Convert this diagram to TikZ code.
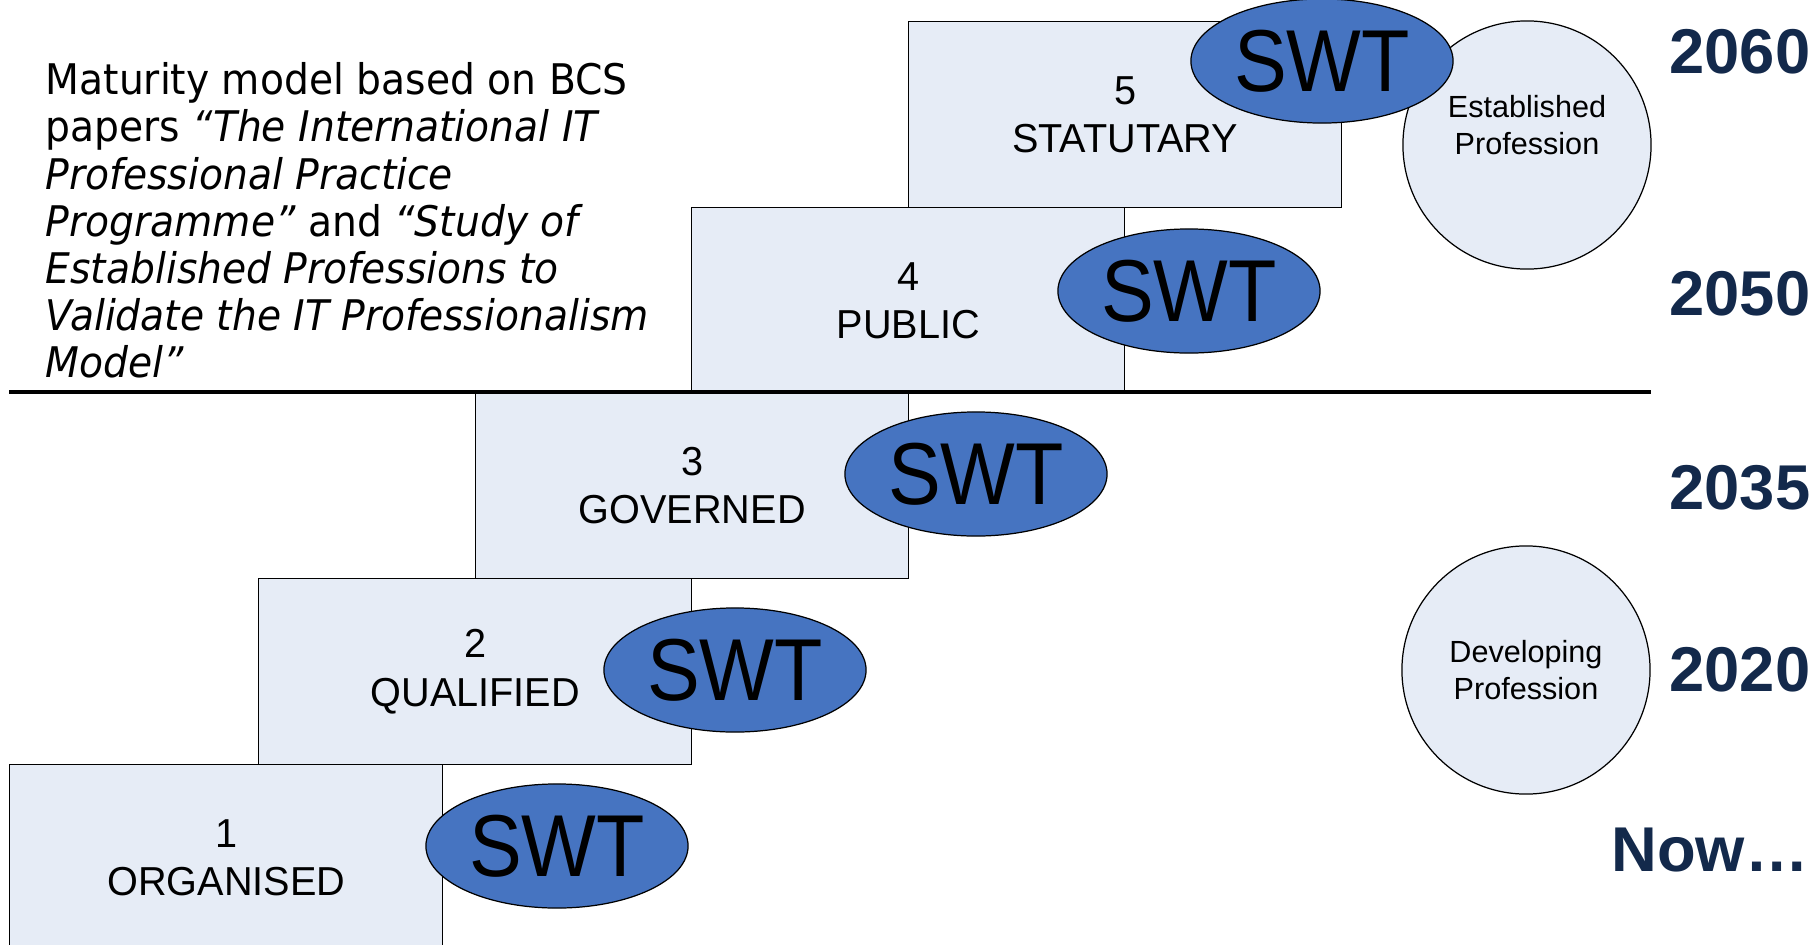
\documentclass[tikz,border=0pt]{standalone}
\usepackage{fontspec}
\setmainfont{Liberation Sans}
\newfontfamily\narrowfont[FakeStretch=0.98]{Liberation Sans}
\newfontfamily\swtfont[FakeStretch=0.9]{Liberation Sans}
\newfontfamily\notefont[FakeStretch=0.93]{DejaVu Sans}
\usetikzlibrary{shapes.geometric, positioning}
\definecolor{stagefill}{HTML}{E6ECF6}
\definecolor{swtblue}{HTML}{4674C1}
\definecolor{yearnavy}{HTML}{13294B}
\tikzset{
    stage/.style={rectangle, draw, line width=0.35pt, fill=stagefill, minimum width=4.33cm, minimum height=1.86cm, inner sep=0, align=center, anchor=north west, font=\narrowfont\fontsize{11.5}{13.8}\selectfont},
    swt/.style={ellipse, draw, line width=0.35pt, fill=swtblue, minimum width=2.62cm, minimum height=1.24cm, inner sep=0, font=\swtfont\fontsize{25}{25}\selectfont},
    profession/.style={circle, draw, line width=0.35pt, fill=stagefill, minimum size=2.48cm, inner sep=0},
    proflabel/.style={align=center, font=\fontsize{8.7}{10.5}\selectfont},
    year/.style={anchor=east, inner sep=0, text=yearnavy, font=\bfseries\fontsize{18}{18}\selectfont},
    divider/.style={line width=1.1pt}
}
\begin{document}
\begin{tikzpicture}[x=0.01cm, y=-0.01cm]
    \useasboundingbox (0,0) rectangle (1820,945);

    % Note on the source papers
    \node (note) [anchor=north west, inner sep=0, align=left, font=\notefont\fontsize{12}{13.4}\selectfont] at (45,62)
        {Maturity model based on BCS\\
         papers \textit{“The International IT}\\
         \textit{Professional Practice}\\
         \textit{Programme”} and \textit{“Study of}\\
         \textit{Established Professions to}\\
         \textit{Validate the IT Professionalism}\\
         \textit{Model”}};

    % Stages, lowest first
    \node (Stage1) [stage] at (9,764) {1\\ORGANISED};
    \node (Stage2) [stage] at (258,578) {2\\QUALIFIED};
    \node (Stage3) [stage] at (475,392) {3\\GOVERNED};
    \node (Stage4) [stage] at (691,207) {4\\PUBLIC};
    \node (Stage5) [stage] at (908,21) {5\\STATUTARY};

    % Professions
    \node (Established) [profession] at (1527,145) {};
    \node (Established_label) [proflabel] at ([yshift=0.2cm]Established.center) {Established\\Profession};
    \node (Developing) [profession] at (1526,670) {};
    \node (Developing_label) [proflabel] at (Developing.center) {Developing\\Profession};

    % SWT marks
    \node (SWT1) [swt] at (557,846) {SWT};
    \node (SWT2) [swt] at (735,670) {SWT};
    \node (SWT3) [swt] at (976,474) {SWT};
    \node (SWT4) [swt] at (1189,291) {SWT};
    \node (SWT5) [swt] at (1322,61) {SWT};

    % Time line
    \node (Y2060) [year] at (1811,52) {2060};
    \node (Y2050) [year] at (1811,294) {2050};
    \node (Y2035) [year] at (1811,488) {2035};
    \node (Y2020) [year] at (1811,670) {2020};
    \node (Now) [year] at (1809,850) {Now…};

    % Today / future split
    \coordinate (rule_west) at (9,392);
    \coordinate (rule_east) at (1651,392);
    \draw[divider] (rule_west) -- (rule_east);
\end{tikzpicture}
\end{document}
